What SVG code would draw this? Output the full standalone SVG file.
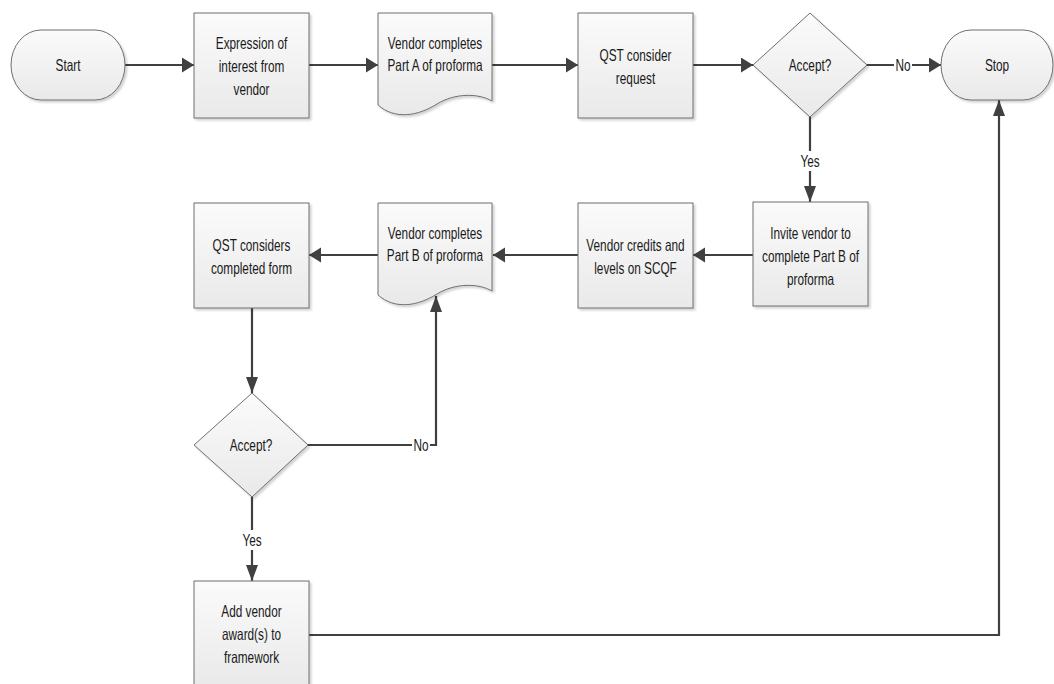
<svg xmlns="http://www.w3.org/2000/svg" width="1054" height="684" viewBox="0 0 1054 684">
<style>
.node{fill:url(#g);stroke:#6e6e6e;stroke-width:1;filter:url(#sh)}
.t{font-family:"Liberation Sans",Arial,sans-serif;font-size:11.8px;fill:#1a1a1a;text-anchor:middle}
.c{fill:none;stroke:#404040;stroke-width:2.2}
.lb{fill:#fff}
</style>
<defs>
<linearGradient id="g" x1="0" y1="0" x2="0" y2="1"><stop offset="0" stop-color="#fbfbfb"/><stop offset="1" stop-color="#e9e9e9"/></linearGradient>
<filter id="sh" x="-10%" y="-10%" width="130%" height="130%"><feDropShadow dx="2" dy="2" stdDeviation="1" flood-color="#000" flood-opacity="0.18"/></filter>
<marker id="ah" markerUnits="userSpaceOnUse" markerWidth="13" markerHeight="16" refX="12" refY="7.5" orient="auto"><path d="M0,0 L12,7.5 L0,15 Z" fill="#404040"/></marker>
<marker id="av" markerUnits="userSpaceOnUse" markerWidth="17" markerHeight="13" refX="16" refY="6" orient="auto"><path d="M0,0 L16,6 L0,12 Z" fill="#404040"/></marker>
</defs>
<g id="connectors">
<path class="c" d="M125,65 H194" marker-end="url(#ah)"/>
<path class="c" d="M309,65 H378" marker-end="url(#ah)"/>
<path class="c" d="M492,65 H578" marker-end="url(#ah)"/>
<path class="c" d="M693,65 H753" marker-end="url(#ah)"/>
<path class="c" d="M867,65 H941" marker-end="url(#ah)"/>
<path class="c" d="M810,117 V202" marker-end="url(#av)"/>
<path class="c" d="M753,255 H693" marker-end="url(#ah)"/>
<path class="c" d="M578,255 H493" marker-end="url(#ah)"/>
<path class="c" d="M378,255 H309" marker-end="url(#ah)"/>
<path class="c" d="M252,308 V393" marker-end="url(#av)"/>
<path class="c" d="M308,445 H436 V296" marker-end="url(#av)"/>
<path class="c" d="M252,497 V581" marker-end="url(#av)"/>
<path class="c" d="M309,635 H999 V100" marker-end="url(#av)"/>
<rect class="lb" x="894" y="56" width="18" height="18"/>
<g transform="translate(903,65) scale(1,1.4)"><text class="t" y="4">No</text></g>
<rect class="lb" x="800" y="151" width="20" height="20"/>
<g transform="translate(810,161) scale(1,1.4)"><text class="t" y="4">Yes</text></g>
<rect class="lb" x="412" y="436" width="18" height="18"/>
<g transform="translate(421,445) scale(1,1.4)"><text class="t" y="4">No</text></g>
<rect class="lb" x="242" y="530" width="20" height="20"/>
<g transform="translate(252,540) scale(1,1.4)"><text class="t" y="4">Yes</text></g>
</g>
<g id="start">
<rect class="node" x="11" y="30" width="114" height="70" rx="30" ry="35"/>
<g transform="translate(68,65) scale(1,1.4)"><text class="t" y="4">Start</text></g>
</g>
<g id="expression">
<rect class="node" x="194" y="13" width="115" height="105"/>
<g transform="translate(251.5,66.5) scale(1,1.4)"><text class="t" y="-12.4">Expression of</text><text class="t" y="4">interest from</text><text class="t" y="20.4">vendor</text></g>
</g>
<g id="partA">
<path class="node" d="M378,13 H492 V101 C478,93 455,93 437,104 C418,116 395,120 378,105 Z"/>
<g transform="translate(435,54) scale(1,1.4)"><text class="t" y="-3.9">Vendor completes</text><text class="t" y="11.9">Part A of proforma</text></g>
</g>
<g id="qst1">
<rect class="node" x="578" y="13" width="115" height="105"/>
<g transform="translate(635.5,66.5) scale(1,1.4)"><text class="t" y="-4.2">QST consider</text><text class="t" y="12.2">request</text></g>
</g>
<g id="accept1">
<polygon class="node" points="810,13 867,65 810,117 753,65"/>
<g transform="translate(810,65) scale(1,1.4)"><text class="t" y="4">Accept?</text></g>
</g>
<g id="stop">
<rect class="node" x="941" y="30" width="112" height="70" rx="30" ry="35"/>
<g transform="translate(997,65) scale(1,1.4)"><text class="t" y="4">Stop</text></g>
</g>
<g id="invite">
<rect class="node" x="753" y="202" width="115" height="104"/>
<g transform="translate(810.5,256) scale(1,1.4)"><text class="t" y="-12.4">Invite vendor to</text><text class="t" y="4">complete Part B of</text><text class="t" y="20.4">proforma</text></g>
</g>
<g id="credits">
<rect class="node" x="578" y="203" width="115" height="105"/>
<g transform="translate(635.5,256.5) scale(1,1.4)"><text class="t" y="-4.2">Vendor credits and</text><text class="t" y="12.2">levels on SCQF</text></g>
</g>
<g id="partB">
<path class="node" d="M378,203 H492 V291 C478,283 455,283 437,294 C418,306 395,310 378,295 Z"/>
<g transform="translate(435,244) scale(1,1.4)"><text class="t" y="-3.9">Vendor completes</text><text class="t" y="11.9">Part B of proforma</text></g>
</g>
<g id="qst2">
<rect class="node" x="194" y="203" width="115" height="105"/>
<g transform="translate(251.5,256.5) scale(1,1.4)"><text class="t" y="-4.2">QST considers</text><text class="t" y="12.2">completed form</text></g>
</g>
<g id="accept2">
<polygon class="node" points="252,393 308,445 252,497 194,445"/>
<g transform="translate(251,445) scale(1,1.4)"><text class="t" y="4">Accept?</text></g>
</g>
<g id="add">
<rect class="node" x="194" y="581" width="115" height="106"/>
<g transform="translate(251.5,634.5) scale(1,1.4)"><text class="t" y="-12.4">Add vendor</text><text class="t" y="4">award(s) to</text><text class="t" y="20.4">framework</text></g>
</g>
</svg>
